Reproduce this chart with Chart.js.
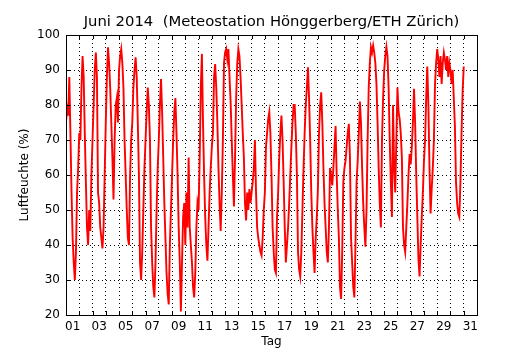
<!DOCTYPE html>
<html>
<head>
<meta charset="utf-8">
<script src="https://cdn.jsdelivr.net/npm/chart.js@4/dist/chart.umd.min.js"></script>
<style>
  body { margin: 0; background: #fff; }
</style>
</head>
<body>
<canvas id="humidityChart" width="530" height="350"></canvas>
<script>
// relative humidity (%), one value every 2 hours, starting June 1 00:00
const rhDays01to05 = [
  75, 79, 77, 88, 72, 55, 42, 35, 30, 38, 55, 62,
  72, 70, 85, 94, 88, 72, 58, 45, 40, 50, 44, 60,
  70, 80, 90, 95, 88, 55, 52, 45, 42, 39, 45, 60,
  75, 88, 96.5, 92, 85, 75, 65, 53, 70, 80, 82, 75,
  90, 94, 96, 92, 85, 70, 60, 50, 42, 40, 60, 70
];
const rhDays06to10 = [
  75, 85, 90, 93.6, 88, 75, 60, 35, 30, 38, 50, 62,
  70, 78, 85, 80, 70, 45, 35, 28, 25, 35, 50, 62,
  70, 80, 87.4, 78, 65, 52, 42, 32, 26, 23, 40, 50,
  60, 70, 78, 82, 72, 60, 45, 35, 21, 35, 48, 52,
  40, 55, 45, 65, 45, 40, 35, 28, 25, 32, 45, 52
];
const rhDays11to15 = [
  50, 65, 85, 94.6, 75, 60, 48, 40, 35.5, 45, 55, 62,
  68, 72, 88, 91.7, 85, 75, 62, 52, 44, 55, 70, 92,
  95, 96, 93, 96, 88, 81, 70, 60, 51, 65, 82, 92,
  96, 94, 88, 80, 72, 65, 52, 47, 55, 50, 56, 52,
  55, 58, 62, 70, 55, 45, 42, 40, 38, 37, 42, 50
];
const rhDays16to20 = [
  55, 68, 72, 76, 78, 72, 60, 45, 38, 33, 32, 48,
  55, 65, 72, 77, 70, 58, 45, 35, 40, 45, 52, 60,
  68, 75, 80, 80, 72, 60, 38, 33, 31, 38, 50, 62,
  72, 80, 85, 90.8, 82, 70, 55, 45, 38, 32, 42, 48,
  56, 72, 80, 83.6, 75, 62, 52, 45, 38, 35, 45, 62
];
const rhDays21to25 = [
  60, 57, 62, 68, 74, 60, 50, 42, 28, 24.6, 38, 58,
  62, 64, 68, 72, 74.6, 65, 42, 35, 28, 25, 40, 58,
  64, 72, 81, 75, 62, 52, 45, 39.5, 50, 70, 85, 92,
  96.5, 95, 97, 95, 92, 86, 75, 62, 52, 45, 70, 82,
  90, 94, 96.6, 94, 85, 70, 58, 48, 80, 62, 55, 70
];
const rhDays26to30 = [
  85, 78, 76, 72, 65, 45, 40, 38, 45, 52, 60, 66,
  63, 68, 75, 84.6, 75, 60, 48, 36, 31, 40, 48, 55,
  64, 70, 82, 91, 80, 62, 49, 56, 62, 70, 86, 92,
  96, 93, 88, 94, 86, 92, 95, 93, 90, 94, 88, 92,
  90, 86, 90, 82, 74, 58, 52, 49, 48, 58, 72, 84,
  91
];

const dayLabels = ['01', '03', '05', '07', '09', '11', '13', '15',
                   '17', '19', '21', '23', '25', '27', '29', '31'];
const yTicks = [20, 30, 40, 50, 60, 70, 80, 90, 100];
const chartTitle = 'Juni 2014  (Meteostation Hönggerberg/ETH Zürich)';

const allValues = [].concat(rhDays01to05, rhDays06to10, rhDays11to15,
                            rhDays16to20, rhDays21to25, rhDays26to30);
// x in days since June 1 00:00
const points = allValues.map((v, i) => ({ x: i / 12, y: v }));

const FONT = 'DejaVu Sans';

// matplotlib-like frame with inward ticks, title centred over the axes
const frameTicks = {
  id: 'frameTicks',
  afterDatasetsDraw(chart) {
    const { ctx, chartArea: a, scales: { x, y } } = chart;
    ctx.save();
    ctx.strokeStyle = '#000';
    ctx.lineWidth = 1;
    ctx.beginPath();
    for (let d = 1; d < 31; d++) {
      const px = Math.round(x.getPixelForValue(d)) + 0.5;
      ctx.moveTo(px, a.bottom); ctx.lineTo(px, a.bottom - 4);
      ctx.moveTo(px, a.top); ctx.lineTo(px, a.top + 4);
    }
    yTicks.forEach(v => {
      const py = Math.round(y.getPixelForValue(v)) + 0.5;
      ctx.moveTo(a.left, py); ctx.lineTo(a.left + 4, py);
      ctx.moveTo(a.right, py); ctx.lineTo(a.right - 4, py);
    });
    ctx.stroke();
    ctx.strokeRect(Math.round(a.left) + 0.5, Math.round(a.top) + 0.5,
                   Math.round(a.right - a.left), Math.round(a.bottom - a.top));

    ctx.fillStyle = '#000';
    ctx.font = '14.8px "' + FONT + '"';
    ctx.textAlign = 'center';
    ctx.textBaseline = 'middle';
    ctx.fillText(chartTitle, (a.left + a.right) / 2, 22);
    ctx.restore();
  }
};

new Chart(document.getElementById('humidityChart'), {
  type: 'line',
  data: {
    datasets: [{
      data: points,
      borderColor: '#ff0000',
      borderWidth: 1.9,
      pointRadius: 0,
      tension: 0,
      fill: false
    }]
  },
  options: {
    responsive: false,
    animation: false,
    devicePixelRatio: 1,
    layout: { padding: { left: 0, right: 53, top: 35, bottom: 0 } },
    plugins: {
      legend: { display: false },
      tooltip: { enabled: false },
      title: { display: false }
    },
    scales: {
      x: {
        type: 'linear',
        min: 0,
        max: 31,
        afterBuildTicks(scale) {
          const ticks = [];
          for (let d = 0; d <= 31; d++) ticks.push({ value: d });
          dayLabels.forEach((lab, i) => ticks.push({ value: 2 * i + 0.5 }));
          ticks.sort((p, q) => p.value - q.value);
          scale.ticks = ticks;
        },
        afterFit(scale) { scale.height = 35; },
        ticks: {
          autoSkip: false,
          maxRotation: 0,
          padding: 5,
          color: '#000',
          font: { family: FONT, size: 12 },
          callback(value) {
            if (value % 1 === 0) return '';
            return dayLabels[(value - 0.5) / 2];
          }
        },
        grid: {
          drawTicks: false,
          lineWidth: 1,
          color: c => (c.tick && c.tick.value % 1 === 0 && c.tick.value > 0 && c.tick.value < 31)
            ? '#000' : 'rgba(0,0,0,0)'
        },
        border: { display: false, dash: [1, 3] },
        title: {
          display: true,
          text: 'Tag',
          color: '#000',
          font: { family: FONT, size: 12 },
          padding: { top: 0, bottom: 1 }
        }
      },
      y: {
        min: 20,
        max: 100,
        afterBuildTicks(scale) {
          scale.ticks = yTicks.map(v => ({ value: v }));
        },
        afterFit(scale) { scale.width = 66; },
        ticks: {
          padding: 6,
          color: '#000',
          font: { family: FONT, size: 12 }
        },
        grid: {
          drawTicks: false,
          lineWidth: 1,
          color: c => (c.tick && c.tick.value > 20 && c.tick.value < 100) ? '#000' : 'rgba(0,0,0,0)'
        },
        border: { display: false, dash: [1, 3] },
        title: {
          display: true,
          text: 'Luftfeuchte (%)',
          color: '#000',
          font: { family: FONT, size: 12 },
          padding: { top: 18, bottom: 0 }
        }
      }
    }
  },
  plugins: [frameTicks]
});
</script>
</body>
</html>
